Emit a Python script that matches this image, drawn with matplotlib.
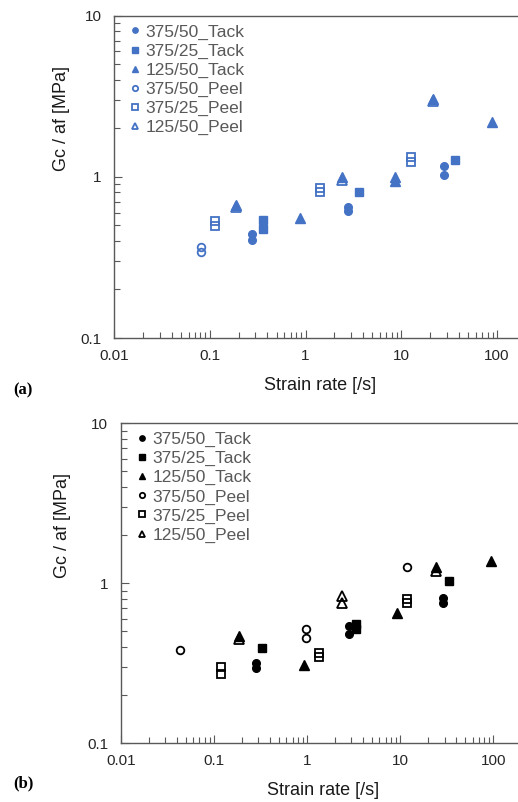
import numpy as np
import matplotlib.pyplot as plt
from matplotlib.ticker import LogLocator, NullFormatter, FixedFormatter, FixedLocator

plt.rcParams['font.family'] = ['Liberation Sans', 'DejaVu Sans']

labels = ['375/50_Tack', '375/25_Tack', '125/50_Tack',
          '375/50_Peel', '375/25_Peel', '125/50_Peel']

# (a) strain rate [/s] and Gc/af [MPa] for each series
a_x = [
    [0.278, 0.278, 2.75, 2.75, 28.0, 28.0],
    [0.357, 0.357, 3.59, 36.1],
    [0.19, 0.877, 2.39, 8.67, 8.67, 21.6, 87.9],
    [0.081, 0.081],
    [0.113, 0.113, 1.42, 1.42, 12.6, 12.6],
    [0.19, 2.39, 21.6],
]
a_y = [
    [0.443, 0.408, 0.647, 0.618, 1.16, 1.02],
    [0.543, 0.475, 0.80, 1.28],
    [0.67, 0.556, 1.0, 1.0, 0.94, 3.05, 2.18],
    [0.365, 0.342],
    [0.533, 0.496, 0.85, 0.81, 1.32, 1.24],
    [0.65, 0.96, 2.95],
]

# (b)
b_x = [
    [0.28, 0.28, 2.84, 2.84, 28.5, 28.5],
    [0.33, 3.32, 3.32, 33.3],
    [0.186, 0.927, 9.29, 24.5, 94.0],
    [0.0433, 0.973, 0.973, 11.7],
    [0.118, 0.118, 1.35, 1.35, 11.7, 11.7],
    [0.186, 2.4, 2.4, 24.5],
]
b_y = [
    [0.319, 0.297, 0.541, 0.48, 0.81, 0.757],
    [0.396, 0.554, 0.516, 1.04],
    [0.47, 0.309, 0.65, 1.26, 1.38],
    [0.383, 0.516, 0.453, 1.26],
    [0.301, 0.27, 0.368, 0.348, 0.80, 0.75],
    [0.45, 0.83, 0.757, 1.19],
]

markers = ['o', 's', '^', 'o', 's', '^']
sizes = [5.5, 5.5, 6.5, 5.5, 5.5, 6.5]
filled = [True, True, True, False, False, False]


def panel(ax, xs, ys, color, xmax):
    for x, y, m, s, f, lab in zip(xs, ys, markers, sizes, filled, labels):
        ax.plot(x, y, ls='none', marker=m, ms=s, color=color,
                markerfacecolor=color if f else 'none',
                markeredgewidth=1.0 if f else 1.3, label=lab)
    ax.set_xscale('log')
    ax.set_yscale('log')
    ax.set_xlim(0.01, xmax)
    ax.set_ylim(0.1, 10)
    ax.xaxis.set_major_locator(FixedLocator([0.01, 0.1, 1, 10, 100]))
    ax.xaxis.set_major_formatter(FixedFormatter(['0.01', '0.1', '1', '10', '100']))
    ax.yaxis.set_major_locator(FixedLocator([0.1, 1, 10]))
    ax.yaxis.set_major_formatter(FixedFormatter(['0.1', '1', '10']))
    for axis in (ax.xaxis, ax.yaxis):
        axis.set_minor_locator(LogLocator(base=10, subs=np.arange(2, 10)))
        axis.set_minor_formatter(NullFormatter())
    ax.tick_params(which='both', direction='in', color='#595959',
                   labelcolor='#262626', labelsize=11, width=0.8)
    ax.tick_params(which='major', length=6)
    ax.tick_params(which='minor', length=4)
    ax.tick_params(axis='x', pad=8)
    ax.tick_params(axis='y', pad=9)
    ax.spines['right'].set_visible(False)
    for sp in ('left', 'bottom', 'top'):
        ax.spines[sp].set_color('#595959')
        ax.spines[sp].set_linewidth(1.0)
    ax.set_xlabel('Strain rate [/s]', fontsize=13, color='#1a1a1a')
    ax.set_ylabel('Gc / af [MPa]', fontsize=13, color='#1a1a1a')
    leg = ax.legend(loc='upper left', bbox_to_anchor=(0.04, 0.973), frameon=False,
                    fontsize=12.5, markerscale=0.7, handlelength=0.6,
                    handletextpad=0.3, labelspacing=0.22, borderpad=0,
                    borderaxespad=0)
    for t in leg.get_texts():
        t.set_color('#595959')


fig = plt.figure(figsize=(5.18, 8.02), dpi=100)
W, H = 518, 802

ax1 = fig.add_axes([114 / W, 1 - 338 / H, (W - 114) / W, (338 - 15.7) / H])
panel(ax1, a_x, a_y, '#4472C4', 10 ** (2 + 21 / 95.75))
ax1.xaxis.set_label_coords(0.51, -0.12)
ax1.yaxis.set_label_coords(-0.11, 0.68)

ax2 = fig.add_axes([120.7 / W, 1 - 743.3 / H, (W - 120.7) / W, 320 / H])
panel(ax2, b_x, b_y, 'black', 10 ** (2 + 24.7 / 93.2))
ax2.xaxis.set_label_coords(0.51, -0.12)
ax2.yaxis.set_label_coords(-0.125, 0.68)

fig.text(13 / W, 1 - 390 / H, '(a)', family='Liberation Serif', fontsize=12,
         fontweight='bold', va='center', ha='left')
fig.text(13 / W, 1 - 783 / H, '(b)', family='Liberation Serif', fontsize=12,
         fontweight='bold', va='center', ha='left')

fig.savefig('out.png', dpi=100, facecolor='white')
